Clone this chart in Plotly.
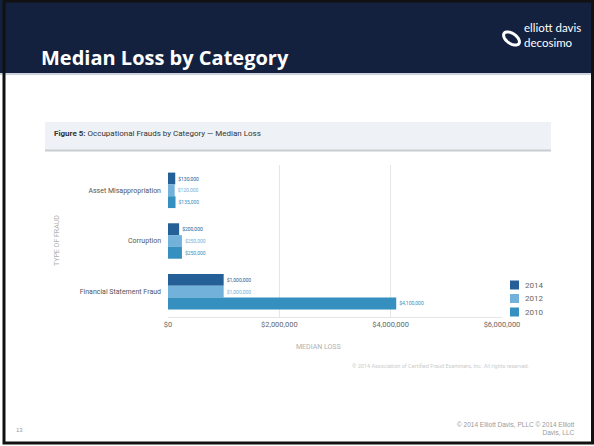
import numpy as np
import plotly.graph_objects as go

# Median loss by fraud category (USD)
categories = ["Asset Misappropriation", "Corruption", "Financial Statement Fraud"]
years = ["2014", "2012", "2010"]
loss_2014 = [130000, 200000, 1000000]
loss_2012 = [120000, 250000, 1000000]
loss_2010 = [135000, 250000, 4100000]
series = {"2014": loss_2014, "2012": loss_2012, "2010": loss_2010}
colors = {"2014": "#245f97", "2012": "#72b1d9", "2010": "#3590bf"}
tick_values = [0, 2000000, 4000000, 6000000]
tick_labels = ["$0", "$2,000,000", "$4,000,000", "$6,000,000"]

W, H = 594, 446


def px(x):
    return x / W


def py(y):
    return 1 - y / H


fig = go.Figure()
for yr in years:
    vals = series[yr]
    fig.add_trace(go.Bar(
        y=categories, x=vals, name=yr, orientation="h",
        marker=dict(color=colors[yr], line=dict(width=0)),
        text=["${:,}".format(v) for v in vals],
        textposition="outside", constraintext="none", cliponaxis=False,
        textfont=dict(size=5, color=colors[yr], family="Roboto"),
        showlegend=False,
    ))

shapes = []
# header band
shapes.append(dict(type="rect", xref="paper", yref="paper", x0=0, x1=1,
                   y0=py(73), y1=1, fillcolor="#13213f", line=dict(width=0), layer="below"))
shapes.append(dict(type="line", xref="paper", yref="paper", x0=0, x1=1,
                   y0=py(74), y1=py(74), line=dict(color="#9aa6b8", width=1)))
# figure caption band
shapes.append(dict(type="rect", xref="paper", yref="paper", x0=px(45), x1=px(551),
                   y0=py(150), y1=py(122), fillcolor="#eef2f6", line=dict(width=0), layer="below"))
shapes.append(dict(type="line", xref="paper", yref="paper", x0=px(45), x1=px(551),
                   y0=py(150.5), y1=py(150.5), line=dict(color="#c9cccf", width=2)))

# logo ring
t = np.linspace(0, 2 * np.pi, 60)
ang = np.deg2rad(35)
cx, cy, a, b = 511.5, 38.5, 9.0, 5.0
xs = cx + a * np.cos(t) * np.cos(ang) - b * np.sin(t) * np.sin(ang)
ys = cy + a * np.cos(t) * np.sin(ang) + b * np.sin(t) * np.cos(ang)
path = "M " + " L ".join("{:.4f},{:.4f}".format(px(x), py(y)) for x, y in zip(xs, ys)) + " Z"
shapes.append(dict(type="path", xref="paper", yref="paper", path=path,
                   line=dict(color="white", width=3)))

# slide frame
shapes.append(dict(type="rect", xref="paper", yref="paper", x0=px(4), x1=px(592.5),
                   y0=py(443), y1=py(1), line=dict(color="#111111", width=3)))

annotations = [
    dict(text="<b>Median Loss by Category</b>", x=px(39), y=py(58), xanchor="left", yanchor="middle",
         font=dict(family="Open Sans", size=20, color="white")),
    dict(text="elliott davis<br>decosimo", x=px(522), y=py(34.5), xanchor="left", yanchor="middle",
         align="left", font=dict(family="Lato", size=11.5, color="white")),
    dict(text="<b>Figure 5:</b> Occupational Frauds by Category — Median Loss", x=px(52), y=py(133),
         xanchor="left", yanchor="middle", font=dict(family="Roboto", size=8, color="#333333")),
    dict(text="TYPE OF FRAUD", x=px(57), y=py(240), textangle=-90, xanchor="center", yanchor="middle",
         font=dict(family="Roboto", size=7, color="#b0b0b0")),
    dict(text="MEDIAN LOSS", x=px(318), y=py(347), xanchor="center", yanchor="middle",
         font=dict(family="Roboto", size=7, color="#b0b0b0")),
    dict(text="© 2014 Association of Certified Fraud Examiners, Inc. All rights reserved.", x=px(531), y=py(366),
         xanchor="right", yanchor="middle", font=dict(family="Roboto", size=5.5, color="#cccccc")),
    dict(text="13", x=px(19), y=py(430), xanchor="center", yanchor="middle",
         font=dict(family="Liberation Sans", size=6, color="#999999")),
    dict(text="© 2014 Elliott Davis, PLLC © 2014 Elliott<br>Davis, LLC", x=px(577), y=py(428),
         xanchor="right", yanchor="middle", align="right",
         font=dict(family="Liberation Sans", size=6.5, color="#9a9a9a")),
]

# year key beside the plot
for i, yr in enumerate(years):
    yc = 285 + i * 13.5
    shapes.append(dict(type="rect", xref="paper", yref="paper", x0=px(510), x1=px(519),
                       y0=py(yc + 4.5), y1=py(yc - 4.5), fillcolor=colors[yr], line=dict(width=0)))
    annotations.append(dict(text=yr, x=px(523), y=py(yc), xanchor="left", yanchor="middle",
                            font=dict(family="Roboto", size=8, color="#666666")))

for ann in annotations:
    ann.update(xref="paper", yref="paper", showarrow=False)

fig.update_layout(
    width=W, height=H, margin=dict(l=0, r=0, t=0, b=0, autoexpand=False),
    paper_bgcolor="white", plot_bgcolor="white",
    barmode="group", bargap=0.3, bargroupgap=0,
    shapes=shapes, annotations=annotations,
    showlegend=False,
    xaxis=dict(domain=[px(168), px(502)], range=[0, 6000000], tickvals=tick_values,
               ticktext=tick_labels, showgrid=True, gridcolor="#e6e6e6", gridwidth=1,
               zeroline=False, showline=True, linecolor="#e6e6e6", ticks="", automargin=False,
               tickfont=dict(family="Roboto", size=7.5, color="#666666")),
    yaxis=dict(domain=[py(317), py(165)], autorange="reversed", showgrid=False,
               showline=False, zeroline=False, ticks="", ticklabelstandoff=6, automargin=False,
               tickfont=dict(family="Roboto", size=7, color="#555555")),
    font=dict(family="Roboto"),
)

fig.write_html("out.html")
